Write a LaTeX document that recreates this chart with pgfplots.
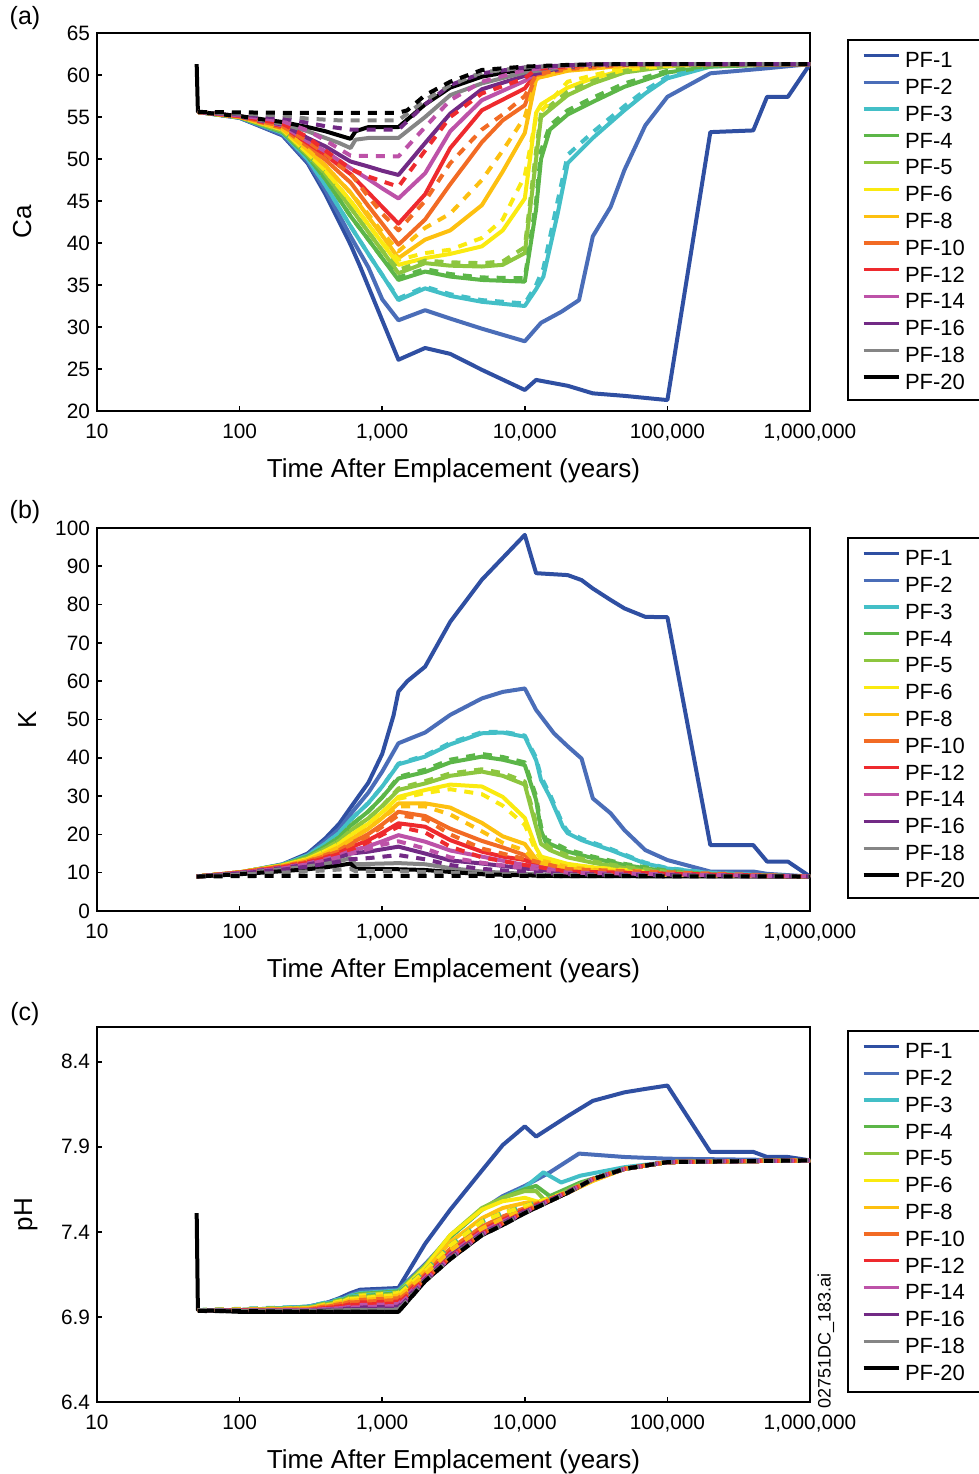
\documentclass[border=0pt]{standalone}
\usepackage{pgfplots}
\pgfplotsset{compat=1.18}
\usepackage{fontspec}
\setmainfont{Liberation Sans}
\definecolor{c1}{HTML}{2F4FA2}
\definecolor{c2}{HTML}{4A6DB8}
\definecolor{c3}{HTML}{43BFC7}
\definecolor{c4}{HTML}{5CB648}
\definecolor{c5}{HTML}{8DC63F}
\definecolor{c6}{HTML}{FAEA10}
\definecolor{c8}{HTML}{FDC010}
\definecolor{c10}{HTML}{F26B24}
\definecolor{c12}{HTML}{EE2A2E}
\definecolor{c14}{HTML}{BD52A8}
\definecolor{c16}{HTML}{722A85}
\definecolor{c18}{HTML}{858585}
\definecolor{c20}{HTML}{000000}
\pgfplotsset{
  scale only axis, width=356.5pt, xmin=10, xmax=1000000,
  xtick={10,100,1000,10000,100000,1000000},
  xticklabels={10,100,{1,000},{10,000},{100,000},{1,000,000}},
  xminorticks=false, yminorticks=false, tick align=inside, tick pos=left,
  major tick length=2.5pt,
  axis line style={line width=1pt},
  every tick/.style={line width=0.8pt, black},
  tick label style={font=\fontsize{10.4}{12}\selectfont},
  xticklabel style={yshift=-3pt},
  every axis x label/.style={at={(axis description cs:0.5,0)}, anchor=center, yshift=-30pt, font=\fontsize{13}{15}\selectfont},
  legend cell align=left,
  legend image code/.code={\draw[#1, solid, line width=1.6pt] (0pt,3.9pt) -- (17.5pt,3.9pt);},
  every axis plot/.append style={line width=2pt, line join=round},
  legend style={at={(1,1)}, anchor=north west, xshift=26pt, draw=none, fill=none,
      inner sep=0pt, outer sep=0pt, row sep=0pt, column sep=2.4pt,
      font=\fontsize{11}{13}\selectfont,
      nodes={inner sep=0pt, outer sep=0pt, text height=9pt, text depth=4.4pt}},
}
\pgfplotsset{/pgf/number format/assume math mode=true}
\tikzset{sd/.style={dash pattern=on 4.5pt off 4pt}}
\begin{document}
\begin{tikzpicture}
\path[use as bounding box] (0,0) rectangle (489.5pt,737pt);
% ---------------- (a) Ca
\begin{semilogxaxis}[at={(48.5pt,531.5pt)}, anchor=south west, height=189pt, no markers,
  xlabel={Time After Emplacement (years)},
  ymin=20, ymax=65, ytick={20,25,...,65}, ylabel={Ca},
  every axis y label/.style={at={(axis description cs:-0.105,0.5)}, rotate=90, anchor=center, font=\fontsize{13}{15}\selectfont},
  legend style={yshift=-8.4pt}]
\addplot[c1] coordinates {(51,55.6)(100,54.9)(200,52.8)(300,49.5)(400,45.8)(500,42.5)(600,39.8)(700,37.2)(800,34.8)(1000,30.8)(1300,26.1)(2000,27.5)(3000,26.8)(5000,24.9)(10000,22.5)(12000,23.7)(20000,23.0)(30000,22.1)(50000,21.8)(100000,21.3)(200000,53.2)(400000,53.4)(500000,57.4)(700000,57.4)(1000000,61.3)};
\addlegendentry{PF-1}
\addplot[c2] coordinates {(51,55.6)(100,54.9)(200,52.9)(300,49.7)(400,46.3)(500,43.3)(600,40.8)(800,37.1)(1000,33.3)(1300,30.8)(2000,32.0)(3000,31.0)(5000,29.8)(10000,28.3)(13000,30.5)(18000,31.8)(24000,33.2)(30000,40.8)(40000,44.3)(50000,48.7)(70000,54.0)(100000,57.4)(200000,60.2)(500000,60.8)(1000000,61.3)};
\addlegendentry{PF-2}
\addplot[c3] coordinates {(51,55.6)(100,54.95)(200,53.1)(300,50.0)(400,46.9)(500,44.2)(600,42.0)(800,38.7)(1000,36.2)(1300,33.2)(2000,34.6)(3000,33.7)(5000,33.0)(10000,32.5)(12000,34.5)(13500,36.0)(17000,43.5)(20000,49.5)(30000,52.5)(50000,55.8)(70000,57.8)(100000,59.6)(200000,61.0)(500000,61.3)(1000000,61.3)};
\addlegendentry{PF-3}
\addplot[c4] coordinates {(51,55.6)(100,54.95)(200,53.2)(300,50.3)(400,47.6)(500,45.2)(600,43.2)(800,40.4)(1000,38.2)(1300,35.6)(2000,36.6)(3000,36.0)(5000,35.6)(10000,35.4)(12000,44.0)(13000,50.0)(15000,53.5)(20000,55.3)(30000,56.8)(50000,58.6)(100000,60.3)(200000,61.0)(500000,61.2)(1000000,61.3)};
\addlegendentry{PF-4}
\addplot[c5] coordinates {(51,55.6)(100,55.0)(200,53.3)(300,50.5)(400,48.2)(500,46.0)(600,44.2)(800,41.3)(1000,39.1)(1300,36.4)(2000,37.6)(3000,37.3)(5000,37.2)(7000,37.4)(10000,38.8)(12000,50.0)(13000,55.0)(20000,57.6)(30000,59.0)(50000,60.3)(100000,61.0)(200000,61.3)(1000000,61.3)};
\addlegendentry{PF-5}
\addplot[c6] coordinates {(51,55.6)(100,55.0)(200,53.5)(300,50.7)(400,48.6)(500,46.6)(600,45.0)(800,42.2)(1000,40.0)(1300,37.4)(2000,38.2)(3000,38.7)(5000,39.6)(7000,41.5)(10000,45.3)(12000,55.5)(13000,56.5)(20000,58.5)(30000,59.6)(50000,60.6)(100000,61.1)(200000,61.3)(1000000,61.3)};
\addlegendentry{PF-6}
\addplot[c8] coordinates {(51,55.6)(100,55.0)(200,53.6)(300,51.1)(400,49.2)(500,47.4)(600,46.0)(800,43.1)(1000,40.9)(1300,38.2)(2000,40.4)(3000,41.5)(5000,44.5)(7000,48.5)(10000,53.1)(12000,59.6)(20000,60.5)(50000,61.1)(100000,61.3)(1000000,61.3)};
\addlegendentry{PF-8}
\addplot[c10] coordinates {(51,55.6)(100,55.05)(200,53.7)(300,51.5)(400,49.9)(500,48.4)(600,47.2)(800,44.4)(1000,42.3)(1300,39.8)(2000,42.8)(3000,47.0)(5000,52.0)(7000,54.6)(10000,56.4)(12000,60.0)(20000,60.7)(50000,61.2)(100000,61.3)(1000000,61.3)};
\addlegendentry{PF-10}
\addplot[c12] coordinates {(51,55.6)(100,55.05)(200,53.9)(300,51.9)(400,50.5)(500,49.2)(600,48.2)(800,46.0)(1000,44.3)(1300,42.3)(2000,45.8)(3000,51.3)(5000,55.8)(10000,58.4)(12000,60.2)(20000,60.9)(50000,61.3)(1000000,61.3)};
\addlegendentry{PF-12}
\addplot[c14] coordinates {(51,55.6)(100,55.1)(200,54.0)(300,52.1)(400,50.9)(500,49.8)(600,48.9)(800,47.6)(1000,46.5)(1300,45.3)(2000,48.3)(3000,53.3)(5000,57.0)(10000,59.3)(12000,60.2)(20000,60.9)(50000,61.3)(1000000,61.3)};
\addlegendentry{PF-14}
\addplot[c16] coordinates {(51,55.6)(100,55.1)(200,54.1)(300,52.5)(400,51.5)(500,50.5)(600,49.7)(800,49.1)(1000,48.6)(1300,48.1)(2000,51.9)(3000,55.4)(5000,58.3)(10000,59.9)(20000,60.9)(50000,61.3)(1000000,61.3)};
\addlegendentry{PF-16}
\addplot[c18] coordinates {(51,55.6)(100,55.1)(200,54.2)(300,53.3)(400,52.5)(500,51.9)(600,51.3)(650,52.3)(800,52.5)(1300,52.5)(2000,55.0)(3000,57.6)(5000,59.0)(10000,60.3)(20000,61.0)(50000,61.3)(1000000,61.3)};
\addlegendentry{PF-18}
\addplot[c20] coordinates {(50,61.3)(51,55.6)(100,55.1)(200,54.4)(300,53.8)(400,53.3)(500,52.8)(600,52.4)(650,53.3)(800,53.8)(1300,53.8)(2000,56.5)(3000,58.5)(5000,59.8)(10000,60.7)(20000,61.1)(50000,61.3)(1000000,61.3)};
\addlegendentry{PF-20}
\addplot[c3, sd, forget plot] coordinates {(51,55.6)(100,54.95)(200,53.1)(300,50.0)(400,46.9)(500,44.2)(600,42.0)(800,38.7)(1000,36.2)(1300,33.4)(2000,34.8)(3000,33.9)(5000,33.2)(10000,32.8)(12000,35.0)(13500,37.0)(17000,45.0)(20000,50.5)(30000,53.2)(50000,56.3)(70000,58.2)(100000,59.8)(200000,61.1)(500000,61.3)(1000000,61.3)};
\addplot[c4, sd, forget plot] coordinates {(51,55.6)(100,54.95)(200,53.2)(300,50.3)(400,47.6)(500,45.2)(600,43.2)(800,40.4)(1000,38.2)(1300,35.9)(2000,36.9)(3000,36.3)(5000,35.9)(10000,35.8)(12000,45.0)(13000,51.0)(15000,54.0)(20000,55.8)(30000,57.3)(50000,59.0)(100000,60.5)(200000,61.1)(500000,61.3)(1000000,61.3)};
\addplot[c5, sd, forget plot] coordinates {(51,55.6)(100,55.0)(200,53.3)(300,50.5)(400,48.2)(500,46.0)(600,44.2)(800,41.3)(1000,39.1)(1300,36.8)(2000,37.9)(3000,37.7)(5000,37.6)(7000,37.8)(10000,39.5)(12000,51.0)(13000,55.5)(20000,58.0)(30000,59.3)(50000,60.5)(100000,61.1)(200000,61.3)(1000000,61.3)};
\addplot[c6, sd, forget plot] coordinates {(51,55.6)(100,55.0)(200,53.5)(300,50.7)(400,48.6)(500,46.6)(600,45.0)(800,42.2)(1000,40.0)(1300,38.0)(2000,38.8)(3000,39.2)(5000,40.6)(7000,42.8)(10000,48.0)(12000,55.0)(20000,59.2)(50000,60.9)(200000,61.3)(1000000,61.3)};
\addplot[c8, sd, forget plot] coordinates {(51,55.6)(100,55.0)(200,53.6)(300,51.1)(400,49.2)(500,47.4)(600,46.0)(800,43.4)(1000,41.3)(1300,39.0)(2000,41.8)(3000,43.5)(5000,47.5)(7000,51.0)(10000,55.0)(12000,59.5)(20000,60.7)(100000,61.3)(1000000,61.3)};
\addplot[c10, sd, forget plot] coordinates {(51,55.6)(100,55.05)(200,53.9)(300,52.1)(400,50.6)(500,49.2)(600,48.3)(800,45.5)(1000,43.5)(1300,41.5)(2000,45.0)(3000,49.5)(5000,53.5)(7000,55.3)(10000,57.5)(12000,60.0)(20000,60.9)(50000,61.3)(1000000,61.3)};
\addplot[c12, sd, forget plot] coordinates {(51,55.6)(100,55.1)(200,54.2)(300,52.6)(400,51.0)(500,49.8)(600,48.8)(800,47.9)(1300,46.7)(2000,51.0)(3000,55.0)(5000,57.8)(10000,59.6)(12000,60.7)(30000,61.3)(1000000,61.3)};
\addplot[c14, sd, forget plot] coordinates {(51,55.6)(100,55.2)(200,54.5)(300,53.4)(400,52.2)(500,51.2)(600,50.4)(1300,50.3)(2000,53.8)(3000,57.0)(5000,59.2)(10000,60.6)(20000,61.1)(50000,61.3)(1000000,61.3)};
\addplot[c16, sd, forget plot] coordinates {(51,55.6)(100,55.3)(200,54.9)(300,54.3)(400,53.9)(600,53.5)(1300,53.5)(2000,56.5)(3000,58.8)(5000,60.2)(10000,60.9)(30000,61.3)(1000000,61.3)};
\addplot[c18, sd, forget plot] coordinates {(51,55.6)(100,55.4)(200,55.2)(300,54.8)(500,54.6)(1300,54.6)(2000,57.0)(3000,58.8)(5000,60.3)(10000,60.9)(30000,61.3)(1000000,61.3)};
\addplot[c20, sd, forget plot] coordinates {(51,55.6)(200,55.5)(1300,55.5)(1500,55.8)(2000,57.6)(3000,59.2)(5000,60.6)(10000,61.0)(20000,61.2)(50000,61.3)(1000000,61.3)};
\end{semilogxaxis}
% ---------------- (b) K
\begin{semilogxaxis}[at={(48.5pt,281.5pt)}, anchor=south west, height=191.5pt, no markers,
  xlabel={Time After Emplacement (years)},
  ymin=0, ymax=100, ytick={0,10,...,100}, ylabel={K},
  every axis y label/.style={at={(axis description cs:-0.098,0.5)}, rotate=90, anchor=center, font=\fontsize{13}{15}\selectfont},
  legend style={yshift=-9.9pt}]
\addplot[c1] coordinates {(50,9.0)(100,10.0)(200,12.2)(300,15.0)(400,19.0)(500,22.8)(600,27.0)(700,30.5)(800,33.5)(1000,41.0)(1200,51.0)(1300,57.3)(1500,60.0)(2000,63.8)(3000,75.5)(5000,86.5)(10000,98.2)(12000,88.2)(20000,87.7)(25000,86.4)(30000,84.2)(40000,81.2)(50000,79.0)(70000,76.8)(100000,76.7)(200000,17.2)(400000,17.2)(500000,12.9)(700000,12.9)(1000000,9.0)};
\addlegendentry{PF-1}
\addplot[c2] coordinates {(50,9.0)(100,9.9)(200,12.0)(300,14.7)(400,18.3)(500,21.4)(600,25.3)(800,30.9)(1000,36.4)(1300,43.8)(2000,46.6)(3000,51.2)(5000,55.5)(7000,57.2)(10000,58.1)(12000,52.5)(16000,46.4)(20000,43.0)(25000,39.8)(30000,29.4)(40000,25.5)(50000,21.1)(70000,15.9)(100000,13.3)(200000,10.3)(400000,10.3)(500000,9.7)(1000000,9.0)};
\addlegendentry{PF-2}
\addplot[c3] coordinates {(50,9.0)(100,10.0)(200,12.1)(300,14.5)(400,17.6)(500,20.4)(600,23.8)(800,28.2)(1000,32.5)(1300,38.3)(2000,40.3)(3000,43.5)(5000,46.4)(7000,46.6)(10000,45.5)(12000,39.4)(13000,34.2)(15000,29.8)(18500,22.0)(20000,20.3)(25000,18.5)(40000,15.9)(70000,12.4)(100000,11.1)(200000,9.9)(500000,9.3)(1000000,9.0)};
\addlegendentry{PF-3}
\addplot[c4] coordinates {(50,9.0)(100,10.0)(200,12.0)(300,14.2)(400,16.9)(500,19.3)(600,22.3)(800,26.0)(1000,29.7)(1300,34.6)(2000,36.3)(3000,38.8)(5000,40.3)(7000,39.5)(10000,38.1)(12000,29.0)(13000,21.0)(14000,18.0)(20000,15.5)(30000,13.8)(50000,12.0)(100000,10.3)(200000,9.5)(1000000,9.0)};
\addlegendentry{PF-4}
\addplot[c5] coordinates {(50,9.0)(100,10.1)(200,12.0)(300,13.9)(400,16.3)(500,18.4)(600,21.0)(800,24.2)(1000,27.4)(1300,31.6)(2000,33.3)(3000,35.3)(5000,36.4)(7000,35.3)(10000,33.0)(12000,22.0)(13000,17.5)(15000,15.9)(20000,14.0)(30000,12.6)(50000,11.2)(100000,10.0)(200000,9.4)(1000000,9.0)};
\addlegendentry{PF-5}
\addplot[c6] coordinates {(50,9.0)(100,10.1)(200,11.9)(300,13.6)(400,15.7)(500,17.6)(600,19.8)(800,22.8)(1000,25.8)(1300,29.8)(2000,31.6)(3000,33.0)(5000,32.5)(7000,29.8)(10000,24.3)(12000,16.5)(13000,14.2)(20000,12.3)(30000,11.4)(50000,10.5)(100000,9.8)(200000,9.3)(1000000,9.0)};
\addlegendentry{PF-6}
\addplot[c8] coordinates {(50,9.0)(100,10.1)(200,11.8)(300,13.3)(400,15.1)(500,16.7)(600,18.6)(800,21.5)(1000,24.3)(1300,28.1)(2000,28.1)(3000,27.0)(5000,23.0)(7000,19.5)(10000,17.5)(12000,13.5)(20000,11.5)(50000,10.0)(100000,9.5)(1000000,9.0)};
\addlegendentry{PF-8}
\addplot[c10] coordinates {(50,9.0)(100,10.1)(200,11.7)(300,13.0)(400,14.6)(500,15.9)(600,17.6)(800,20.1)(1000,22.6)(1300,25.9)(2000,24.8)(3000,21.5)(5000,18.3)(7000,16.6)(10000,14.6)(12000,12.4)(20000,11.0)(50000,9.9)(100000,9.4)(1000000,9.0)};
\addlegendentry{PF-10}
\addplot[c12] coordinates {(50,9.0)(100,10.0)(200,11.5)(300,12.7)(400,14.0)(500,15.2)(600,16.6)(800,18.5)(1000,20.4)(1300,22.9)(2000,22.0)(3000,18.5)(5000,15.5)(7000,14.2)(10000,13.3)(12000,12.0)(20000,10.7)(50000,9.7)(100000,9.3)(1000000,9.0)};
\addlegendentry{PF-12}
\addplot[c14] coordinates {(50,9.0)(100,10.0)(200,11.3)(300,12.4)(400,13.5)(500,14.5)(600,15.7)(800,16.9)(1000,18.2)(1300,19.8)(2000,18.1)(3000,15.8)(5000,14.2)(10000,12.0)(20000,10.5)(50000,9.6)(100000,9.2)(1000000,9.0)};
\addlegendentry{PF-14}
\addplot[c16] coordinates {(50,9.0)(100,9.9)(200,11.2)(300,12.1)(400,13.1)(500,14.0)(600,15.0)(800,15.5)(1000,16.1)(1300,16.8)(2000,15.0)(3000,13.2)(5000,12.4)(10000,11.1)(20000,10.0)(50000,9.4)(1000000,9.0)};
\addlegendentry{PF-16}
\addplot[c18] coordinates {(50,9.0)(100,9.8)(200,10.9)(300,11.6)(400,12.3)(500,13.0)(600,13.8)(650,12.2)(1300,12.5)(2000,12.2)(3000,11.2)(5000,10.3)(10000,9.7)(20000,9.3)(1000000,9.0)};
\addlegendentry{PF-18}
\addplot[c20] coordinates {(50,9.0)(100,9.6)(200,10.4)(300,10.9)(400,11.4)(500,11.9)(600,12.4)(650,11.1)(1300,10.9)(2000,10.7)(3000,10.2)(5000,9.6)(10000,9.3)(20000,9.1)(1000000,9.0)};
\addlegendentry{PF-20}
\addplot[c3, sd, forget plot] coordinates {(50,9.0)(100,10.0)(200,12.1)(300,14.5)(400,17.6)(500,20.4)(600,23.8)(800,28.2)(1000,32.5)(1300,38.5)(2000,40.6)(3000,43.9)(5000,46.7)(7000,46.8)(10000,45.8)(12000,40.0)(13000,35.0)(15000,30.5)(18500,22.6)(20000,20.8)(25000,18.9)(40000,16.2)(70000,12.6)(100000,11.2)(200000,10.0)(500000,9.3)(1000000,9.0)};
\addplot[c4, sd, forget plot] coordinates {(50,9.0)(100,10.0)(200,12.0)(300,14.2)(400,16.9)(500,19.3)(600,22.3)(800,26.0)(1000,29.7)(1300,35.0)(2000,36.9)(3000,39.5)(5000,41.0)(7000,40.2)(10000,38.8)(12000,30.0)(13000,22.0)(14000,18.8)(20000,16.0)(30000,14.2)(50000,12.3)(100000,10.5)(200000,9.6)(1000000,9.0)};
\addplot[c5, sd, forget plot] coordinates {(50,9.0)(100,10.1)(200,12.0)(300,13.9)(400,16.3)(500,18.4)(600,21.0)(800,24.2)(1000,27.4)(1300,32.0)(2000,33.9)(3000,35.9)(5000,37.0)(7000,36.0)(10000,33.8)(12000,23.0)(13000,18.5)(15000,16.5)(20000,14.5)(30000,13.0)(50000,11.5)(100000,10.2)(200000,9.5)(1000000,9.0)};
\addplot[c6, sd, forget plot] coordinates {(50,9.0)(100,10.1)(200,11.9)(300,13.6)(400,15.7)(500,17.6)(600,19.8)(800,22.8)(1000,25.8)(1300,29.3)(2000,30.8)(3000,31.8)(5000,30.5)(7000,27.5)(10000,22.5)(12000,15.5)(13000,13.6)(20000,12.0)(100000,9.7)(1000000,9.0)};
\addplot[c8, sd, forget plot] coordinates {(50,9.0)(100,10.1)(200,11.8)(300,13.3)(400,15.1)(500,16.7)(600,18.6)(800,21.5)(1000,24.3)(1300,27.3)(2000,27.3)(3000,25.2)(5000,20.8)(7000,17.8)(10000,15.8)(12000,12.8)(20000,11.0)(100000,9.4)(1000000,9.0)};
\addplot[c10, sd, forget plot] coordinates {(50,9.0)(100,10.1)(200,11.6)(300,12.9)(400,14.4)(500,15.6)(600,17.2)(800,19.6)(1000,22.0)(1300,25.0)(2000,24.0)(3000,20.0)(5000,16.3)(10000,13.6)(20000,10.9)(1000000,9.0)};
\addplot[c12, sd, forget plot] coordinates {(50,9.0)(100,10.0)(200,11.4)(300,12.6)(400,13.8)(500,14.9)(600,16.0)(800,18.0)(1000,19.9)(1300,22.0)(2000,20.5)(3000,16.8)(5000,14.0)(10000,12.0)(20000,10.3)(1000000,9.0)};
\addplot[c14, sd, forget plot] coordinates {(50,9.0)(100,9.9)(200,11.1)(300,12.2)(400,13.2)(500,14.1)(600,15.0)(800,16.2)(1000,17.3)(1300,18.2)(2000,16.3)(3000,14.0)(5000,12.6)(10000,11.2)(20000,10.0)(1000000,9.0)};
\addplot[c16, sd, forget plot] coordinates {(50,9.0)(100,9.8)(200,10.8)(300,11.6)(400,12.3)(500,12.9)(600,13.5)(800,13.8)(1300,14.6)(2000,13.5)(3000,12.0)(5000,11.0)(10000,10.2)(20000,9.6)(1000000,9.0)};
\addplot[c18, sd, forget plot] coordinates {(50,9.0)(200,10.0)(400,10.6)(600,11.0)(650,10.4)(1300,10.4)(3000,10.0)(10000,9.4)(1000000,9.0)};
\addplot[c20, sd, forget plot] coordinates {(50,9.0)(200,9.2)(1300,9.2)(1000000,9.0)};
\end{semilogxaxis}
% ---------------- (c) pH
\begin{semilogxaxis}[at={(48.5pt,36pt)}, anchor=south west, height=187.5pt, no markers,
  xlabel={Time After Emplacement (years)},
  ymin=6.4, ymax=8.604, ytick={6.4,6.9,7.4,7.9,8.4}, ylabel={pH},
  yticklabels={6.4,6.9,7.4,7.9,8.4},
  every axis y label/.style={at={(axis description cs:-0.0996,0.5)}, rotate=90, anchor=center, font=\fontsize{13}{15}\selectfont},
  legend style={yshift=-6.9pt}]
\addplot[c1] coordinates {(51,6.94)(100,6.94)(200,6.95)(300,6.96)(400,6.98)(500,7.01)(600,7.04)(700,7.06)(1300,7.07)(2000,7.33)(3000,7.53)(5000,7.76)(7000,7.91)(10000,8.02)(12000,7.96)(20000,8.08)(30000,8.17)(50000,8.22)(70000,8.24)(100000,8.26)(200000,7.87)(400000,7.87)(500000,7.84)(700000,7.84)(1000000,7.82)};
\addlegendentry{PF-1}
\addplot[c2] coordinates {(51,6.94)(100,6.94)(300,6.96)(500,7.00)(600,7.03)(700,7.05)(1300,7.06)(2000,7.21)(3000,7.37)(5000,7.53)(7000,7.61)(10000,7.67)(15000,7.75)(24000,7.86)(50000,7.84)(100000,7.83)(1000000,7.82)};
\addlegendentry{PF-2}
\addplot[c3] coordinates {(51,6.94)(100,6.94)(300,6.96)(500,6.995)(600,7.025)(700,7.04)(1300,7.055)(2000,7.20)(3000,7.37)(5000,7.53)(7000,7.60)(10000,7.66)(13500,7.75)(18000,7.69)(24500,7.73)(50000,7.78)(100000,7.81)(1000000,7.82)};
\addlegendentry{PF-3}
\addplot[c4] coordinates {(51,6.94)(100,6.94)(300,6.955)(500,6.99)(600,7.02)(700,7.035)(1300,7.05)(2000,7.20)(3000,7.37)(5000,7.53)(7000,7.60)(10000,7.65)(12000,7.67)(15000,7.61)(24500,7.69)(50000,7.77)(100000,7.81)(1000000,7.82)};
\addlegendentry{PF-4}
\addplot[c5] coordinates {(51,6.94)(100,6.94)(300,6.955)(500,6.985)(600,7.015)(700,7.03)(1300,7.045)(2000,7.20)(3000,7.38)(5000,7.54)(7000,7.60)(10000,7.64)(12000,7.64)(14000,7.58)(24500,7.68)(50000,7.77)(100000,7.81)(1000000,7.82)};
\addlegendentry{PF-5}
\addplot[c6] coordinates {(51,6.94)(100,6.94)(300,6.95)(500,6.98)(600,7.01)(700,7.025)(1300,7.04)(2000,7.19)(3000,7.38)(5000,7.53)(7000,7.58)(10000,7.60)(12000,7.58)(14000,7.57)(20000,7.63)(30000,7.70)(50000,7.77)(100000,7.81)(1000000,7.82)};
\addlegendentry{PF-6}
\addplot[c8] coordinates {(51,6.94)(100,6.94)(300,6.95)(500,6.975)(600,7.0)(700,7.015)(1300,7.025)(2000,7.17)(3000,7.34)(5000,7.48)(7000,7.54)(10000,7.57)(12000,7.57)(20000,7.63)(30000,7.70)(50000,7.77)(100000,7.81)(1000000,7.82)};
\addlegendentry{PF-8}
\addplot[c10] coordinates {(51,6.94)(100,6.94)(300,6.945)(500,6.97)(600,6.99)(700,7.0)(1300,7.01)(2000,7.15)(3000,7.30)(5000,7.43)(7000,7.49)(10000,7.54)(20000,7.63)(30000,7.71)(50000,7.77)(100000,7.81)(1000000,7.82)};
\addlegendentry{PF-10}
\addplot[c12] coordinates {(51,6.94)(100,6.94)(300,6.94)(500,6.96)(600,6.975)(700,6.985)(1300,6.99)(2000,7.14)(3000,7.28)(5000,7.41)(7000,7.47)(10000,7.53)(20000,7.63)(30000,7.71)(50000,7.77)(100000,7.81)(1000000,7.82)};
\addlegendentry{PF-12}
\addplot[c14] coordinates {(51,6.94)(100,6.935)(300,6.94)(500,6.95)(600,6.96)(700,6.97)(1300,6.975)(2000,7.13)(3000,7.27)(5000,7.40)(7000,7.46)(10000,7.52)(20000,7.63)(30000,7.71)(50000,7.77)(100000,7.81)(1000000,7.82)};
\addlegendentry{PF-14}
\addplot[c16] coordinates {(51,6.94)(100,6.935)(300,6.935)(500,6.945)(600,6.95)(700,6.955)(1300,6.96)(2000,7.12)(3000,7.26)(5000,7.39)(7000,7.45)(10000,7.52)(20000,7.63)(30000,7.71)(50000,7.77)(100000,7.81)(1000000,7.82)};
\addlegendentry{PF-16}
\addplot[c18] coordinates {(51,6.94)(100,6.935)(300,6.935)(600,6.94)(1300,6.945)(2000,7.115)(3000,7.25)(5000,7.385)(7000,7.445)(10000,7.515)(20000,7.63)(30000,7.71)(50000,7.77)(100000,7.81)(1000000,7.82)};
\addlegendentry{PF-18}
\addplot[c20] coordinates {(50,7.51)(51,6.94)(100,6.93)(1300,6.93)(2000,7.11)(3000,7.24)(5000,7.38)(7000,7.44)(10000,7.51)(20000,7.63)(30000,7.71)(50000,7.77)(100000,7.81)(1000000,7.82)};
\addlegendentry{PF-20}
\addplot[c3, sd, forget plot] coordinates {(51,6.94)(300,6.96)(600,7.02)(1300,7.045)(2000,7.17)(3000,7.32)(5000,7.46)(7000,7.51)(10000,7.55)(20000,7.635)(30000,7.71)(50000,7.77)(100000,7.81)(1000000,7.82)};
\addplot[c4, sd, forget plot] coordinates {(51,6.94)(300,6.955)(600,7.015)(1300,7.04)(2000,7.17)(3000,7.32)(5000,7.46)(7000,7.51)(10000,7.55)(20000,7.635)(30000,7.71)(50000,7.77)(100000,7.81)(1000000,7.82)};
\addplot[c5, sd, forget plot] coordinates {(51,6.94)(300,6.955)(600,7.01)(1300,7.035)(2000,7.17)(3000,7.32)(5000,7.46)(7000,7.51)(10000,7.55)(20000,7.635)(30000,7.71)(50000,7.77)(100000,7.81)(1000000,7.82)};
\addplot[c6, sd, forget plot] coordinates {(51,6.94)(300,6.95)(600,7.005)(1300,7.03)(2000,7.17)(3000,7.32)(5000,7.46)(7000,7.51)(10000,7.55)(20000,7.635)(30000,7.71)(50000,7.77)(100000,7.81)(1000000,7.82)};
\addplot[c8, sd, forget plot] coordinates {(51,6.94)(300,6.95)(600,6.995)(1300,7.015)(2000,7.15)(3000,7.29)(5000,7.42)(7000,7.48)(10000,7.53)(20000,7.635)(30000,7.71)(50000,7.77)(100000,7.81)(1000000,7.82)};
\addplot[c10, sd, forget plot] coordinates {(51,6.94)(300,6.945)(600,6.985)(1300,7.0)(2000,7.12)(3000,7.25)(5000,7.39)(7000,7.45)(10000,7.52)(20000,7.635)(30000,7.71)(50000,7.77)(100000,7.81)(1000000,7.82)};
\addplot[c12, sd, forget plot] coordinates {(51,6.94)(300,6.94)(600,6.97)(1300,6.98)(2000,7.12)(3000,7.25)(5000,7.39)(7000,7.45)(10000,7.52)(20000,7.635)(30000,7.71)(50000,7.77)(100000,7.81)(1000000,7.82)};
\addplot[c14, sd, forget plot] coordinates {(51,6.94)(300,6.94)(600,6.955)(1300,6.965)(2000,7.115)(3000,7.245)(5000,7.385)(7000,7.445)(10000,7.515)(20000,7.635)(30000,7.71)(50000,7.77)(100000,7.81)(1000000,7.82)};
\addplot[c16, sd, forget plot] coordinates {(51,6.94)(300,6.935)(600,6.945)(1300,6.95)(2000,7.115)(3000,7.245)(5000,7.385)(7000,7.445)(10000,7.515)(20000,7.635)(30000,7.71)(50000,7.77)(100000,7.81)(1000000,7.82)};
\addplot[c18, sd, forget plot] coordinates {(51,6.94)(300,6.935)(600,6.94)(1300,6.94)(2000,7.11)(3000,7.24)(5000,7.38)(7000,7.44)(10000,7.51)(20000,7.63)(30000,7.71)(50000,7.77)(100000,7.81)(1000000,7.82)};
\addplot[c20, sd, forget plot] coordinates {(51,6.935)(1300,6.93)(2000,7.11)(3000,7.24)(5000,7.38)(7000,7.44)(10000,7.51)(20000,7.63)(30000,7.71)(50000,7.77)(100000,7.81)(1000000,7.82)};
\end{semilogxaxis}
\draw[line width=0.6pt] (424pt,717pt) rectangle (495pt,537pt);
\draw[line width=0.6pt] (424pt,468pt) rectangle (495pt,288pt);
\draw[line width=0.6pt] (424pt,221.5pt) rectangle (495pt,41pt);
\node[font=\fontsize{12.5}{14}\selectfont] at (12.5pt,728pt) {(a)};
\node[font=\fontsize{12.5}{14}\selectfont] at (12.5pt,481pt) {(b)};
\node[font=\fontsize{12.5}{14}\selectfont] at (12.5pt,230pt) {(c)};
\node[rotate=90, font=\fontsize{9}{10}\selectfont] at (413pt,66.5pt) {02751DC\_183.ai};
\end{tikzpicture}
\end{document}
